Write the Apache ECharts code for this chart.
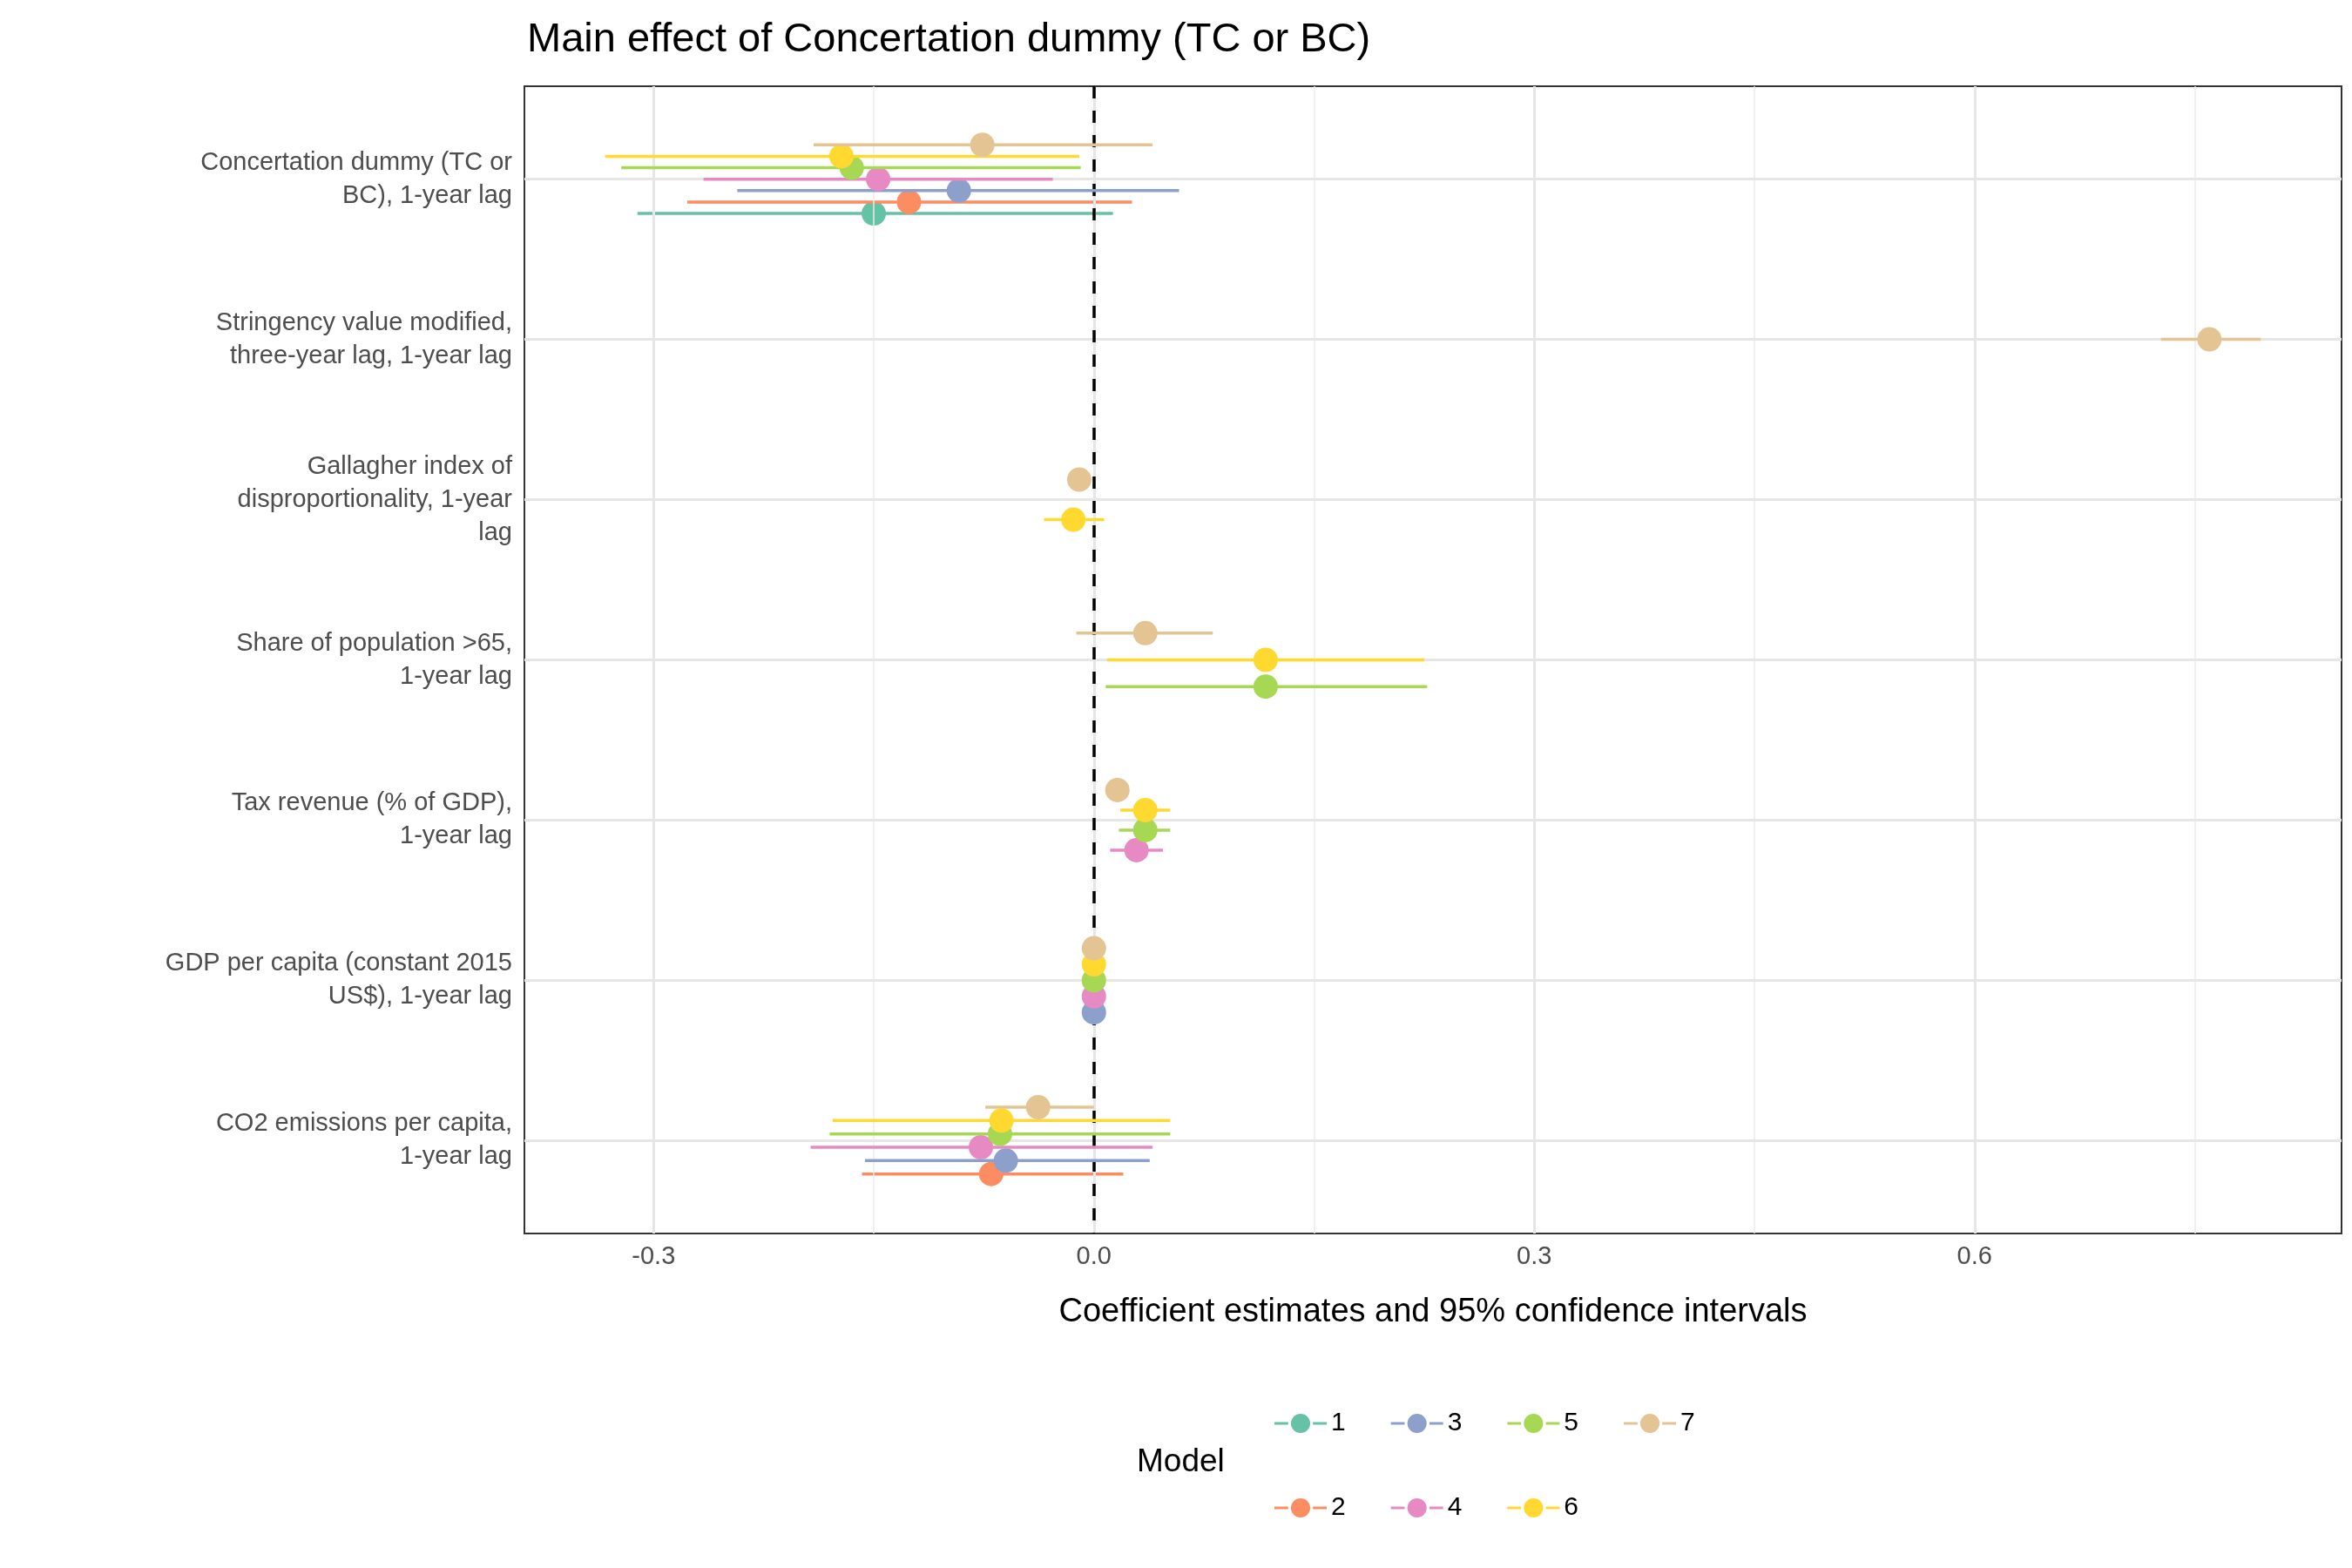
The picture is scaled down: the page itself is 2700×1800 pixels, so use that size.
<!DOCTYPE html>
<html>
<head>
<meta charset="utf-8">
<script src="https://cdn.jsdelivr.net/npm/echarts@6/dist/echarts.min.js"></script>
<style>html,body{margin:0;padding:0;background:#fff}#chart{width:2700px;height:1800px}</style>
</head>
<body>
<div id="chart"></div>
<script>
// rows, top to bottom
var terms = [
	'Concertation dummy (TC or\nBC), 1-year lag',
	'Stringency value modified,\nthree-year lag, 1-year lag',
	'Gallagher index of\ndisproportionality, 1-year\nlag',
	'Share of population >65,\n1-year lag',
	'Tax revenue (% of GDP),\n1-year lag',
	'GDP per capita (constant 2015\nUS$), 1-year lag',
	'CO2 emissions per capita,\n1-year lag'
];
var models = ['1', '2', '3', '4', '5', '6', '7'];
var colors = ['#66C2A5', '#FC8D62', '#8DA0CB', '#E78AC3', '#A6D854', '#FFD92F', '#E5C494'];
var xTicks = [-0.3, 0, 0.3, 0.6];
var xMinor = [-0.15, 0.15, 0.45, 0.75];

// estimate / lower / upper per model, one entry per row (null = not in model)
var est1 = [-0.150, null, null, null, null, null, null];
var lo1  = [-0.311, null, null, null, null, null, null];
var hi1  = [0.013, null, null, null, null, null, null];
var est2 = [-0.126, null, null, null, null, null, -0.070];
var lo2  = [-0.277, null, null, null, null, null, -0.158];
var hi2  = [0.026, null, null, null, null, null, 0.020];
var est3 = [-0.092, null, null, null, null, 0.000, -0.060];
var lo3  = [-0.243, null, null, null, null, -0.001, -0.156];
var hi3  = [0.058, null, null, null, null, 0.001, 0.038];
var est4 = [-0.147, null, null, null, 0.029, 0.000, -0.077];
var lo4  = [-0.266, null, null, null, 0.011, -0.001, -0.193];
var hi4  = [-0.028, null, null, null, 0.047, 0.001, 0.040];
var est5 = [-0.165, null, null, 0.117, 0.035, 0.000, -0.064];
var lo5  = [-0.322, null, null, 0.008, 0.017, -0.001, -0.180];
var hi5  = [-0.009, null, null, 0.227, 0.052, 0.001, 0.052];
var est6 = [-0.172, null, -0.014, 0.117, 0.035, 0.000, -0.063];
var lo6  = [-0.333, null, -0.034, 0.009, 0.018, -0.001, -0.178];
var hi6  = [-0.010, null, 0.007, 0.225, 0.052, 0.001, 0.052];
var est7 = [-0.076, 0.760, -0.010, 0.035, 0.016, 0.000, -0.038];
var lo7  = [-0.191, 0.727, -0.015, -0.012, 0.012, -0.001, -0.074];
var hi7  = [0.040, 0.795, -0.005, 0.081, 0.020, 0.001, 0.000];

var ests = [est1, est2, est3, est4, est5, est6, est7];
var los = [lo1, lo2, lo3, lo4, lo5, lo6, lo7];
var his = [hi1, hi2, hi3, hi4, hi5, hi6, hi7];

// dodge: models present in a row share 0.5 of a row, highest model on top
function dodgeY(row, m) {
	var present = [];
	for (var k = models.length - 1; k >= 0; k--) {
		if (ests[k][row] !== null) present.push(k);
	}
	var n = present.length;
	var idx = present.indexOf(m);
	return row + (idx - (n - 1) / 2) * 0.5 / n;
}

var series = [{
	type: 'line',
	data: [],
	silent: true,
	markLine: {
		symbol: 'none', silent: true, label: {show: false},
		data: xMinor.map(function (v) { return {xAxis: v, lineStyle: {color: '#EBEBEB', width: 1.5, type: 'solid'}}; })
			.concat(xTicks.map(function (v) { return {xAxis: v, lineStyle: {color: '#E6E6E6', width: 3, type: 'solid'}}; }))
			.concat(terms.map(function (t, i) { return {yAxis: i, lineStyle: {color: '#E6E6E6', width: 3, type: 'solid'}}; }))
	}
}];

models.forEach(function (name, m) {
	var data = [];
	for (var r = 0; r < terms.length; r++) {
		if (ests[m][r] !== null) data.push([ests[m][r], dodgeY(r, m), los[m][r], his[m][r]]);
	}
	series.push({
		name: name,
		type: 'custom',
		itemStyle: {color: colors[m]},
		encode: {x: [0, 2, 3], y: 1},
		renderItem: function (params, api) {
			var y = api.value(1);
			var p = api.coord([api.value(0), y]);
			var a = api.coord([api.value(2), y]);
			var b = api.coord([api.value(3), y]);
			return {
				type: 'group',
				children: [
					{type: 'line', shape: {x1: a[0], y1: a[1], x2: b[0], y2: b[1]}, style: {stroke: colors[m], lineWidth: 3.5}},
					{type: 'circle', shape: {cx: p[0], cy: p[1], r: 14}, style: {fill: colors[m]}}
				]
			};
		},
		data: data,
		z: 3 + m
	});
});

series.push({
	type: 'line',
	data: [],
	silent: true,
	z: 20,
	markLine: {
		symbol: 'none', silent: true, label: {show: false},
		data: [{xAxis: 0}],
		lineStyle: {color: '#000', width: 3.5, type: [14, 14]}
	}
});

var legendIcon = 'path://M0,9L10,9L10,11L0,11Z M12,10A7,7 0 1 1 26,10A7,7 0 1 1 12,10Z M28,9L38,9L38,11L28,11Z';
var legendBase = {
	orient: 'horizontal', itemWidth: 60, itemHeight: 30, itemGap: 52, icon: legendIcon,
	textStyle: {fontFamily: 'Liberation Sans', fontSize: 30, color: '#000'}, selectedMode: false
};

var myChart = echarts.init(document.getElementById('chart'));
var option = {
	backgroundColor: '#fff',
	animation: false,
	title: {
		text: 'Main effect of Concertation dummy (TC or BC)',
		left: 600, top: 18,
		textStyle: {fontFamily: 'Liberation Sans', fontWeight: 'normal', fontSize: 47, color: '#000'}
	},
	legend: [
		Object.assign({data: ['1', '3', '5', '7'], left: 1458, top: 1614}, legendBase),
		Object.assign({data: ['2', '4', '6'], left: 1458, top: 1711}, legendBase)
	],
	graphic: [{
		type: 'text', left: 1305, top: 1660,
		style: {text: 'Model', fontFamily: 'Liberation Sans', fontSize: 37, fill: '#000'}
	}],
	grid: {left: 602, right: 12, top: 99, bottom: 384, show: true, borderColor: '#333', borderWidth: 2, backgroundColor: '#fff'},
	xAxis: {
		type: 'value', min: -0.388, max: 0.85,
		name: 'Coefficient estimates and 95% confidence intervals',
		nameLocation: 'middle', nameGap: 72,
		nameTextStyle: {fontFamily: 'Liberation Sans', fontSize: 38, color: '#000'},
		splitLine: {show: false},
		axisLine: {show: false},
		axisTick: {show: true, customValues: xTicks, length: 8, lineStyle: {color: '#333', width: 2}},
		axisLabel: {
			customValues: xTicks, margin: 12,
			formatter: function (v) { return v.toFixed(1); },
			fontFamily: 'Liberation Sans', fontSize: 29, color: '#4D4D4D'
		}
	},
	yAxis: {
		type: 'value', min: -0.58, max: 6.58, inverse: true,
		splitLine: {show: false},
		axisLine: {show: false},
		axisTick: {show: true, customValues: [0, 1, 2, 3, 4, 5, 6], length: 8, lineStyle: {color: '#333', width: 2}},
		axisLabel: {
			customValues: [0, 1, 2, 3, 4, 5, 6], margin: 14, align: 'right', verticalAlign: 'middle',
			formatter: function (v) { return terms[Math.round(v)]; },
			fontFamily: 'Liberation Sans', fontSize: 29, lineHeight: 38, color: '#4D4D4D'
		}
	},
	series: series
};
myChart.setOption(option);
</script>
</body>
</html>
